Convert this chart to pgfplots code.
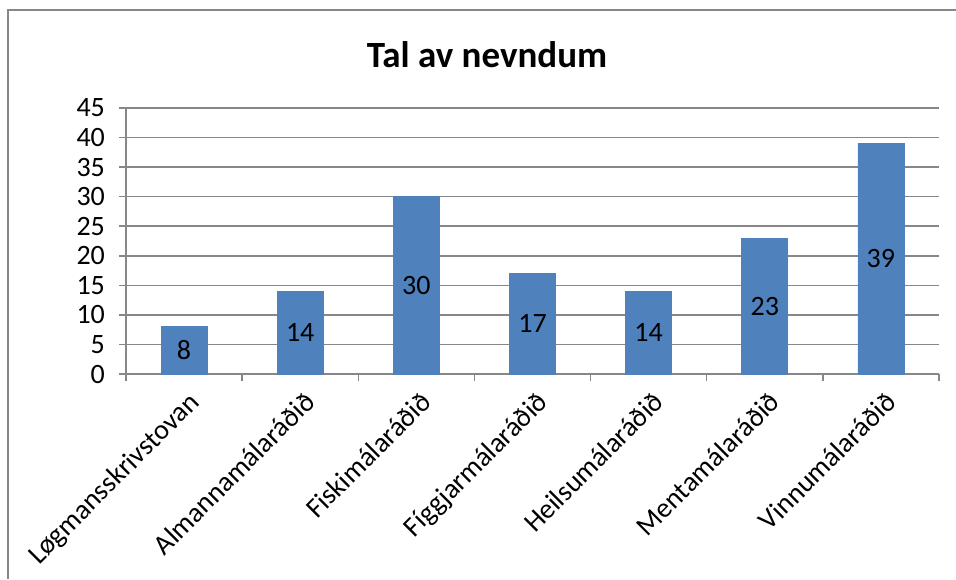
\documentclass[border=0pt]{standalone}
\usepackage{pgfplots}
\pgfplotsset{compat=1.18}
\usepackage{fontspec}
\setmainfont{Carlito}
\definecolor{barblue}{HTML}{4F81BD}
\definecolor{gridgray}{HTML}{878787}
\begin{document}
\begin{tikzpicture}
\path[use as bounding box] (0,0) rectangle (478pt,-289.5pt);
\draw[gridgray, line width=1pt] (4pt,-289.5pt) -- (4pt,-5pt) -- (478pt,-5pt);
\node[font=\fontsize{18.5}{22}\selectfont\bfseries] at (243.5pt,-27.5pt) {Tal av nevndum};
\begin{axis}[
  at={(63pt,-187pt)}, anchor=south west,
  scale only axis, width=406.5pt, height=133pt,
  xmin=-0.5, xmax=6.5, ymin=0, ymax=45,
  ytick={0,5,...,45},
  xtick={0,...,6},
  xticklabels={Løgmansskrivstovan,Almannamálaráðið,Fiskimálaráðið,Fíggjarmálaráðið,Heilsumálaráðið,Mentamálaráðið,Vinnumálaráðið},
  minor xtick={-0.5,0.5,...,6.5},
  major x tick style={draw=none},
  minor tick length=3.5pt,
  major tick length=3.5pt,
  tick align=outside,
  tick style={gridgray, line width=0.75pt},
  axis x line*=bottom, axis y line*=left,
  axis line style={gridgray, line width=0.75pt, -},
  ymajorgrids, grid style={gridgray, line width=0.75pt},
  x tick label style={rotate=45, anchor=north east, inner sep=1pt, yshift=-3pt, xshift=-1pt},
  y tick label style={xshift=-3.5pt},
  tick label style={font=\fontsize{14}{16}\selectfont},
  /pgf/number format/assume math mode=true,
  clip=false,
]
\addplot[ybar, bar width=23pt, fill=barblue, draw=barblue,
  nodes near coords,
  visualization depends on={rawy \as \ry},
  every node near coord/.append style={anchor=center, yshift={-\ry*1.4778pt}, font=\fontsize{14}{16}\selectfont, text=black},
] coordinates {(0,8) (1,14) (2,30) (3,17) (4,14) (5,23) (6,39)};
\end{axis}
\end{tikzpicture}
\end{document}
